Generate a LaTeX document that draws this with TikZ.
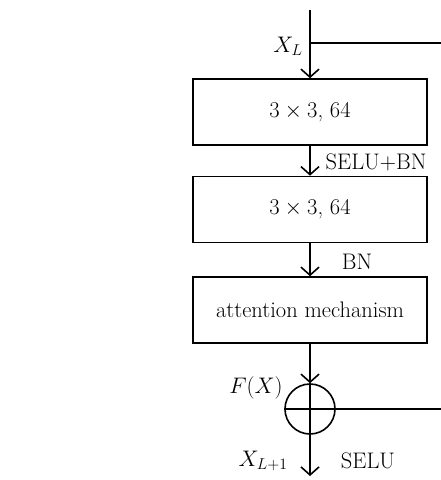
\RequirePackage{fix-cm}
\documentclass[tikz,border=0pt]{standalone}
\usetikzlibrary{arrows.meta}
\begin{document}
\begin{tikzpicture}[x=1pt,y=-1pt,
  line width=1.6pt,
  arr/.style={-{Straight Barb[length=8pt,width=18pt,line width=1.6pt]}},
  blk/.style={draw,minimum width=234pt,minimum height=66pt,inner sep=0pt,font=\fontsize{22.5}{27}\selectfont},
  lbl/.style={font=\fontsize{22.5}{27}\selectfont,inner sep=0pt},
  sumnode/.style={draw,circle,minimum size=50pt,inner sep=0pt}]
\useasboundingbox (0,0) rectangle (440,480);
\coordinate (top) at (310,10);
\coordinate (br) at (310,43);
\coordinate (brend) at (441,43);
\node[blk] (b1) at (310,112) {$3\times3$, 64};
\node[blk] (b2) at (310,209.5) {$3\times3$, 64};
\node[blk] (b3) at (310,310) {attention mechanism};
\node[sumnode] (s) at (310,409) {};
\coordinate (send) at (441,409);
\coordinate (out) at (310,476);
\draw[arr] (top) -- (b1.north);
\draw (br) -- (brend);
\draw[arr] (b1.south) -- (b2.north);
\draw[arr] (b2.south) -- (b3.north);
\draw[arr] (b3.south) -- (s.north);
\draw (s.north) -- (s.south);
\draw (s.west) -- (s.east);
\draw (s.east) -- (send);
\draw[arr] (s.south) -- (out);
\node[lbl] (xl) at (288,46) {$X_L$};
\node[lbl] (sb) at (376,162) {SELU+BN};
\node[lbl] (bn) at (357,262) {BN};
\node[lbl] (fx) at (256,388) {$F(X)$};
\node[lbl] (xl1) at (263,461) {$X_{L+1}$};
\node[lbl] (selu) at (368,461) {SELU};
\end{tikzpicture}
\end{document}
